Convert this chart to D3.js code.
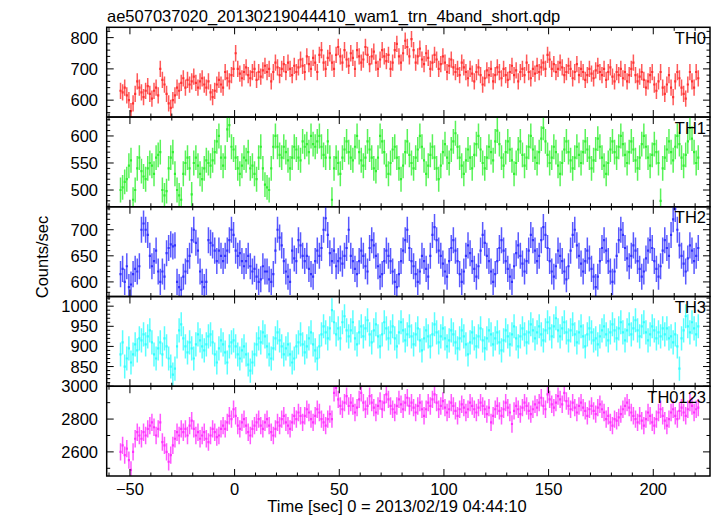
<!DOCTYPE html>
<html><head><meta charset="utf-8">
<script src="https://cdn.jsdelivr.net/npm/d3@7"></script>
<style>body{margin:0;background:#fff}svg{display:block}text{font-family:"Liberation Sans",Arial,sans-serif;fill:#000}</style>
</head><body><svg id="c" width="717" height="516"></svg>
<script>
const title = "ae507037020_20130219044410_wam1_trn_4band_short.qdp";
const xLabel = "Time [sec] 0 = 2013/02/19 04:44:10";
const yLabel = "Counts/sec";
const tStart = -55;
const xTicks = [-50, 0, 50, 100, 150, 200];
const panelNames = ["TH0", "TH1", "TH2", "TH3", "TH0123"];
const panelColors = ["#ff3030", "#30f030", "#3030ff", "#30ffff", "#ff30ff"];
const panelErrors = [26, 23, 25, 30, 53];
const panelDomains = [[546, 833], [469, 635], [572, 744], [801, 1024], [2453, 3000]];
const panelTicks = [[600, 700, 800], [500, 550, 600], [600, 650, 700], [850, 900, 950, 1000], [2600, 2800, 3000]];
const panelMinor = [20, 10, 10, 10, 100];

const th0 = [
630,625,640,615,600,565,590,620,660,640,
625,610,630,645,620,605,630,640,615,700,
665,650,620,590,575,600,615,640,630,655,
670,640,665,650,660,675,655,640,660,670,
650,640,660,625,610,630,650,665,650,640,
690,670,660,680,700,750,700,685,670,690,
705,680,670,690,700,665,690,675,695,710,
690,700,660,690,720,705,680,700,715,690,
720,700,680,710,690,705,730,710,690,740,
715,700,735,720,690,745,760,720,700,735,
750,720,700,745,770,740,720,760,730,710,
750,735,700,760,740,720,730,770,745,715,
740,755,720,700,730,760,740,725,745,700,
720,760,780,740,720,750,790,770,740,795,
760,720,740,765,730,715,750,735,700,720,
745,730,700,715,740,720,690,710,730,705,
690,700,680,720,705,690,670,700,685,660,
690,705,680,650,670,695,680,700,660,680,
705,690,670,700,680,665,690,710,680,695,
660,690,700,680,720,690,670,700,685,710,
690,705,720,700,745,730,700,715,690,700,
720,705,680,690,710,700,670,690,715,680,
700,690,665,680,700,685,670,695,710,690,
680,700,665,690,705,675,660,690,680,700,
670,690,660,680,700,720,680,660,675,690,
665,640,660,680,690,650,630,660,690,640,
620,650,680,640,610,660,690,670,640,620,
605,650,690,660,640,690,670];

const th1 = [
500,505,515,520,545,555,482,500,540,560,
535,525,520,540,550,545,530,560,565,570,
500,490,498,540,560,570,530,500,490,482,
530,550,560,540,492,550,560,545,530,520,
540,555,550,545,555,570,590,600,560,545,
560,612,620,580,575,560,540,530,545,560,
555,570,540,545,530,520,560,580,540,510,
505,500,540,580,600,580,565,560,580,570,
555,540,560,580,575,560,555,590,580,585,
570,600,585,580,590,600,580,565,560,590,
560,482,540,560,550,530,560,575,590,570,
560,555,580,600,570,555,545,560,590,575,
560,540,535,560,600,590,570,545,530,550,
575,580,560,540,520,545,570,590,565,550,
540,560,575,600,580,555,530,545,565,580,
560,540,520,545,570,585,560,550,575,590,
605,580,560,545,530,555,575,560,540,565,
585,600,575,550,540,560,580,570,555,590,
610,585,560,545,570,590,575,555,530,550,
575,590,565,545,560,580,600,575,560,550,
570,595,615,590,565,550,560,580,570,545,
530,550,575,590,570,555,540,560,580,565,
550,570,590,575,560,540,555,575,595,580,
560,545,530,550,575,590,570,560,580,600,
585,565,550,570,590,575,555,540,560,585,
600,580,560,545,565,585,570,550,480,540,
560,575,590,570,555,580,600,585,560,545,
565,590,615,595,570,550,560];

const th2 = [
615,625,600,630,590,595,615,625,620,630,
700,712,700,690,650,630,640,660,620,600,
620,610,655,665,672,668,670,600,590,585,
610,620,640,650,680,700,675,660,620,600,
590,600,680,675,670,660,640,660,650,640,
650,660,680,700,690,660,650,655,640,630,
640,650,630,620,625,610,600,605,630,620,
620,605,600,615,660,700,685,670,640,620,
610,600,660,645,640,680,670,650,640,650,
625,615,610,640,660,650,665,700,722,690,
655,640,660,630,640,645,635,650,665,700,
650,640,625,615,640,660,650,630,620,665,
680,670,650,630,610,615,640,660,650,640,
620,600,590,615,640,660,680,700,665,640,
630,615,600,620,650,640,625,610,650,690,
705,680,660,650,635,620,610,640,665,680,
660,640,615,600,620,650,670,655,640,625,
610,630,660,690,675,650,640,620,600,615,
640,665,680,660,640,625,610,600,630,655,
670,650,635,620,640,660,690,680,660,640,
650,680,705,690,665,640,620,610,630,660,
650,640,620,605,630,660,690,700,670,650,
635,620,640,660,645,625,610,590,610,640,
665,680,660,640,620,600,620,650,680,700,
690,665,645,630,650,670,660,640,625,610,
620,645,660,680,665,640,625,610,630,660,
680,665,650,690,720,740,700,670,650,635,
620,645,670,660,640,650,665];

const th3 = [
880,910,850,870,895,860,880,905,890,920,
915,930,905,925,940,910,880,870,895,910,
880,920,900,870,850,830,845,900,940,955,
920,900,885,910,895,870,905,930,915,900,
890,905,925,930,910,880,860,895,915,905,
885,860,900,910,915,900,880,870,890,900,
880,855,840,860,880,905,920,910,935,925,
900,880,870,895,920,935,915,900,880,895,
905,880,860,870,900,910,930,905,885,900,
920,935,905,890,870,900,930,950,935,920,
945,990,960,930,945,920,960,975,940,925,
940,960,920,905,935,950,925,945,965,930,
910,940,955,925,900,930,960,945,920,935,
950,920,900,935,960,940,915,930,950,925,
905,930,945,915,890,920,940,925,900,930,
955,935,910,925,945,920,900,915,940,930,
910,895,920,940,925,905,880,910,935,920,
900,925,945,915,895,920,940,930,905,920,
935,910,890,915,940,925,905,930,950,920,
900,925,945,930,910,935,955,940,920,935,
950,930,915,940,960,945,925,950,970,940,
925,945,960,935,915,940,955,930,910,935,
950,925,900,930,945,935,915,920,905,925,
940,950,930,915,935,955,940,920,945,960,
935,915,940,955,930,945,965,940,925,950,
960,935,915,930,950,940,920,935,925,945,
930,945,920,925,910,930,900,845,920,940,
975,950,935,960,945,930,950];

const th0123 = [
2600,2640,2580,2620,2550,2490,2600,2680,2720,2700,
2680,2720,2700,2740,2760,2780,2750,2700,2740,2780,
2660,2640,2600,2540,2580,2640,2680,2720,2700,2740,
2720,2740,2700,2760,2790,2740,2700,2720,2680,2700,
2720,2680,2660,2700,2740,2720,2690,2700,2740,2760,
2740,2780,2820,2800,2860,2820,2760,2740,2780,2800,
2760,2720,2700,2740,2760,2780,2800,2760,2740,2780,
2800,2760,2720,2700,2740,2780,2760,2800,2820,2780,
2760,2740,2780,2820,2800,2840,2820,2780,2820,2860,
2840,2800,2780,2820,2860,2840,2800,2780,2760,2800,
2830,2800,2960,2990,2920,2880,2860,2900,2940,2880,
2900,2880,2840,2870,2920,2960,2900,2860,2880,2940,
2900,2870,2840,2880,2910,2860,2900,2950,2920,2880,
2860,2840,2880,2920,2890,2860,2900,2930,2880,2900,
2870,2840,2880,2900,2860,2820,2860,2900,2880,2920,
2950,2900,2860,2880,2910,2870,2840,2860,2900,2880,
2850,2820,2860,2890,2870,2840,2860,2900,2880,2860,
2840,2870,2900,2880,2860,2830,2870,2780,2820,2860,
2880,2850,2820,2860,2900,2870,2840,2770,2850,2880,
2860,2830,2870,2900,2880,2850,2830,2860,2890,2870,
2900,2930,2880,2860,2950,2920,2890,2870,2900,2940,
2920,2890,2960,2910,2880,2860,2900,2870,2840,2880,
2900,2870,2850,2820,2860,2880,2850,2830,2870,2890,
2860,2840,2800,2820,2780,2760,2800,2790,2810,2830,
2860,2880,2900,2870,2840,2820,2800,2780,2820,2790,
2760,2800,2840,2820,2780,2760,2800,2840,2860,2820,
2790,2760,2800,2840,2860,2820,2800,2850,2870,2840,
2820,2860,2900,2880,2840,2860,2870];

const seriesList = [th0, th1, th2, th3, th0123];

const svg = d3.select("#c");
const L = 106.7, R = 710, T = 27.3, B = 476;
const ph = (B - T) / 5;
const x = d3.scaleLinear().domain([-61.1, 227.1]).range([L, R]);

svg.append("text").attr("x", 107).attr("y", 22).attr("font-size", 16.5).text(title);

seriesList.forEach((vals, i) => {
  const top = T + i * ph, bot = top + ph;
  const y = d3.scaleLinear().domain(panelDomains[i]).range([bot, top]);
  const g = svg.append("g");
  const cid = "clip" + i;
  svg.append("clipPath").attr("id", cid).append("rect").attr("x", L).attr("y", top).attr("width", R - L).attr("height", ph);
  const dg = g.append("g").attr("clip-path", `url(#${cid})`);
  const col = panelColors[i], err = panelErrors[i];
  const pts = vals.map((v, k) => ({t: tStart + k, v}));
  dg.selectAll("line.e").data(pts).join("line")
    .attr("x1", d => x(d.t + 0.5)).attr("x2", d => x(d.t + 0.5))
    .attr("y1", d => y(d.v - err)).attr("y2", d => y(d.v + err))
    .attr("stroke", col).attr("stroke-width", 1.5).attr("stroke-opacity", 0.8);
  dg.selectAll("line.h").data(pts).join("line")
    .attr("x1", d => x(d.t)).attr("x2", d => x(d.t + 1))
    .attr("y1", d => y(d.v)).attr("y2", d => y(d.v))
    .attr("stroke", col).attr("stroke-width", 2.2);

  const [d0, d1] = panelDomains[i];
  const step = panelMinor[i];
  for (let v = Math.ceil(d0 / step) * step; v <= d1; v += step) {
    const major = panelTicks[i].includes(v);
    const len = major ? 7 : 3.5;
    const yy = y(v);
    g.append("line").attr("x1", L).attr("x2", L + len).attr("y1", yy).attr("y2", yy).attr("stroke", "#000").attr("stroke-width", 1);
    g.append("line").attr("x1", R).attr("x2", R - len).attr("y1", yy).attr("y2", yy).attr("stroke", "#000").attr("stroke-width", 1);
  }
  panelTicks[i].forEach(v => {
    g.append("text").attr("x", 98).attr("y", y(v) + 6).attr("text-anchor", "end").attr("font-size", 16.5).text(v);
  });
  for (let t = -60; t <= 220; t += 10) {
    const major = xTicks.includes(t);
    const len = major ? 7 : 3.5;
    const xx = x(t);
    g.append("line").attr("x1", xx).attr("x2", xx).attr("y1", top).attr("y2", top + len).attr("stroke", "#000").attr("stroke-width", 1);
    g.append("line").attr("x1", xx).attr("x2", xx).attr("y1", bot).attr("y2", bot - len).attr("stroke", "#000").attr("stroke-width", 1);
  }
  g.append("text").attr("x", 706).attr("y", top + 16.5).attr("text-anchor", "end").attr("font-size", 16.5).text(panelNames[i]);
  g.append("rect").attr("x", L).attr("y", top).attr("width", R - L).attr("height", ph)
    .attr("fill", "none").attr("stroke", "#000").attr("stroke-width", 1.5);
});

xTicks.forEach(t => {
  svg.append("text").attr("x", x(t)).attr("y", 495).attr("text-anchor", "middle").attr("font-size", 16.5)
    .text(t < 0 ? "\u2212" + Math.abs(t) : t);
});
svg.append("text").attr("x", 397).attr("y", 512).attr("text-anchor", "middle").attr("font-size", 16.5).text(xLabel);
svg.append("text").attr("transform", "translate(48,257) rotate(-90)").attr("text-anchor", "middle").attr("font-size", 16.5).text(yLabel);
</script></body></html>
